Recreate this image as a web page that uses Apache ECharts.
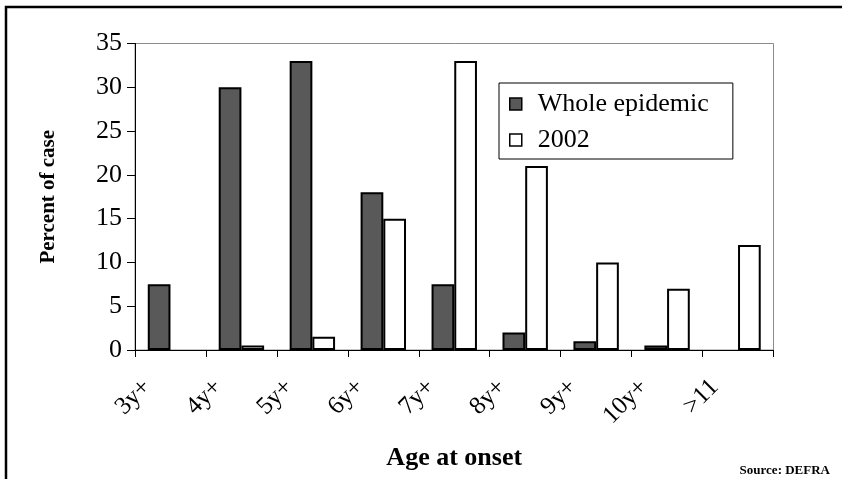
<!DOCTYPE html>
<html>
<head>
<meta charset="utf-8">
<script src="https://cdn.jsdelivr.net/npm/echarts@6/dist/echarts.min.js"></script>
<style>
html,body{margin:0;padding:0;background:#fff;}
#chart{width:842px;height:479px;}
</style>
</head>
<body>
<div id="chart"></div>
<script>
const categories = ['3y+', '4y+', '5y+', '6y+', '7y+', '8y+', '9y+', '10y+', '>11'];
const wholeEpidemic = [7.5, 30, 33, 18, 7.5, 2, 1, 0.5, 0];
const year2002 = [0, 0.5, 1.5, 15, 33, 21, 10, 7, 12];
const seriesNames = ['Whole epidemic', '2002'];
const yMin = 0, yMax = 35, yInterval = 5;

// zero-height bars are not drawn in the reference
const noZero = arr => arr.map(v => (v === 0 ? '-' : v));

const FONT = 'Liberation Serif';
const chart = echarts.init(document.getElementById('chart'), null, {renderer: 'canvas'});
chart.setOption({
  backgroundColor: '#ffffff',
  animation: false,
  grid: {left: 135, top: 43.5, right: 68.5, bottom: 129, show: true, borderColor: '#8c8c8c', borderWidth: 1, backgroundColor: 'transparent'},
  legend: {
    left: 499, top: 83, orient: 'vertical',
    borderColor: '#000', borderWidth: 1,
    padding: [8, 24, 6, 10],
    itemGap: 10, itemWidth: 12, itemHeight: 12,
    icon: 'rect',
    textStyle: {fontFamily: FONT, fontSize: 26, color: '#000', padding: [0, 0, 0, 11]},
    data: [
      {name: seriesNames[0], itemStyle: {color: '#595959', borderColor: '#000', borderWidth: 1.5}},
      {name: seriesNames[1], itemStyle: {color: '#fff', borderColor: '#000', borderWidth: 1.5}}
    ]
  },
  xAxis: {
    type: 'category', data: categories,
    axisLine: {lineStyle: {color: '#000', width: 1}},
    axisTick: {show: true, length: 7, lineStyle: {color: '#000'}},
    axisLabel: {rotate: 45, margin: 10, padding: [0, 33, 0, 0], fontFamily: FONT, fontSize: 25, color: '#000', interval: 0},
    name: 'Age at onset', nameLocation: 'middle', nameGap: 95,
    nameTextStyle: {fontFamily: FONT, fontSize: 26, fontWeight: 'bold', color: '#000'}
  },
  yAxis: {
    type: 'value', min: yMin, max: yMax, interval: yInterval,
    splitLine: {show: false},
    axisLine: {show: true, lineStyle: {color: '#000', width: 1}},
    axisTick: {show: true, length: 8, lineStyle: {color: '#000'}},
    axisLabel: {margin: 13, fontFamily: FONT, fontSize: 26, color: '#000'},
    name: 'Percent of case', nameLocation: 'middle', nameGap: 76, nameRotate: 90,
    nameTextStyle: {fontFamily: FONT, fontSize: 21, fontWeight: 'bold', color: '#000'}
  },
  series: [
    {name: seriesNames[0], type: 'bar', data: noZero(wholeEpidemic), barGap: '0%', barCategoryGap: '36%',
     itemStyle: {color: '#595959', borderColor: '#000', borderWidth: 2}},
    {name: seriesNames[1], type: 'bar', data: noZero(year2002),
     itemStyle: {color: '#ffffff', borderColor: '#000', borderWidth: 2}}
  ],
  graphic: [
    {type: 'polyline', silent: true, shape: {points: [[6, 479], [6, 7], [842, 7]]}, style: {stroke: '#000', lineWidth: 2.5, fill: null}},
    {type: 'text', right: 12, top: 464, style: {text: 'Source: DEFRA', font: 'bold 13px "Liberation Serif"', fill: '#000'}}
  ]
});
</script>
</body>
</html>
